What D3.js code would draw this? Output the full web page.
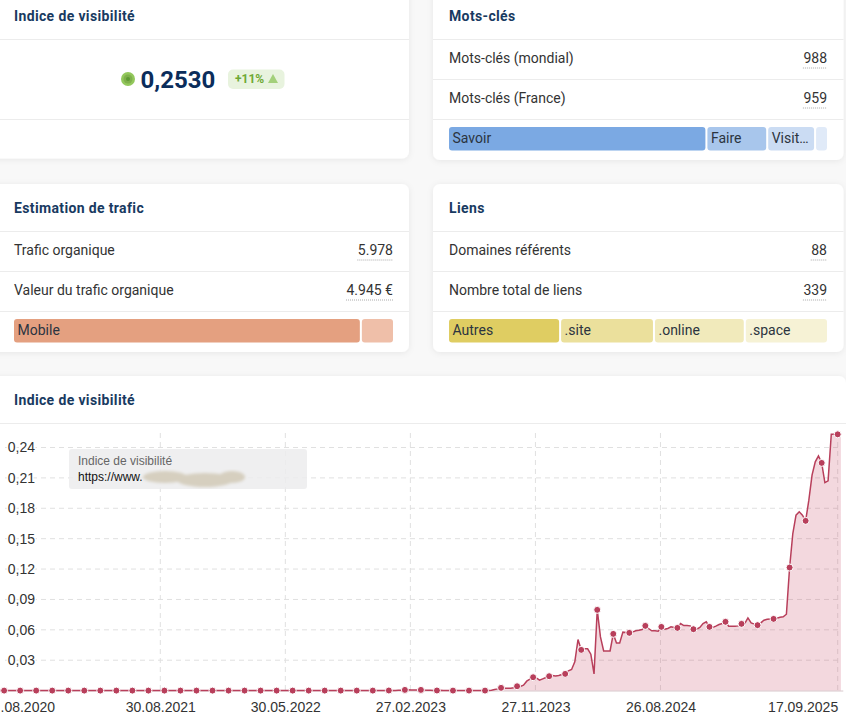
<!DOCTYPE html>
<html>
<head>
<meta charset="utf-8">
<style>
  html, body { margin: 0; padding: 0; background: #f8f8f8; overflow: hidden; }
  svg { display: block; }
  .title { font: 700 14px Roboto, sans-serif; fill: #183a61; letter-spacing: 0.36px; }
  .row { font: 400 14px Roboto, sans-serif; fill: #333; }
  .seg { font: 400 14px Roboto, sans-serif; fill: #2b3440; }
  .axis text { font: 14px "Liberation Sans", Arial, sans-serif; fill: #333; }
</style>
</head>
<body>
<svg id="chart" width="846" height="722"></svg>
<script src="https://cdn.jsdelivr.net/npm/d3@7"></script>
<script>
const yTicks = [0.03, 0.06, 0.09, 0.12, 0.15, 0.18, 0.21, 0.24];
const xTickLabels = ['30.08.2021', '30.05.2022', '27.02.2023', '27.11.2023', '26.08.2024', '17.09.2025'];
const firstTickLabel = '.08.2020';

const motsClesRows = [['Mots-clés (mondial)', '988'], ['Mots-clés (France)', '959']];
const traficRows = [['Trafic organique', '5.978'], ['Valeur du trafic organique', '4.945 €']];
const liensRows = [['Domaines référents', '88'], ['Nombre total de liens', '339']];

const intentLabels = ['Savoir', 'Faire', 'Visit…', ''];
const intentShares = [68, 16, 12.6, 3.4];
const deviceLabels = ['Mobile', ''];
const deviceShares = [91.3, 8.7];
const tldLabels = ['Autres', '.site', '.online', '.space'];
const tldShares = [29.5, 24.7, 23.9, 21.9];

// weekly values, oldest first, each row after the first two starts on a marked point
const visibility = [
  0, 0,
  0, 0, 0, 0, 0,  0, 0, 0, 0, 0,  0, 0, 0, 0, 0,  0, 0, 0, 0, 0,
  0, 0, 0, 0, 0,  0, 0, 0, 0, 0,  0, 0, 0, 0, 0,  0, 0, 0, 0, 0,
  0, 0, 0, 0, 0,  0, 0, 0, 0, 0,  0, 0, 0, 0, 0,  0, 0, 0, 0, 0,
  0, 0, 0, 0, 0,  0, 0, 0, 0, 0,  0, 0, 0, 0, 0,  0, 0, 0, 0, 0,
  0, 0, 0, 0, 0,  0, 0, 0, 0, 0,  0, 0, 0, 0, 0,  0, 0, 0, 0, 0,
  0, 0, 0, 0, 0,  0, 0, 0, 0, 0,  0, 0, 0, 0, 0,  0, 0, 0, 0, 0,
  0, 0, 0, 0, 0,  0, 0, 0, 0, 0,
  0.0001, 0.0002, 0.0002, 0.0003, 0.0004,
  0.0007, 0.0008, 0.0006, 0.0006, 0.0007,
  0.0007, 0.0005, 0.0004, 0.0003, 0.0002,
  0.0001, 0.0003, 0.0002, 0.0001, 0,
  0, 0.0001, 0, 0, 0,
  0, 0, 0, 0, 0.0002,
  0, 0.0001, 0.0004, 0.0011, 0.0017,
  0.0027, 0.0024, 0.0024, 0.0024, 0.0027,
  0.0043, 0.0040, 0.0053, 0.0093, 0.0113,
  0.0132, 0.0126, 0.0103, 0.0116, 0.0129,
  0.0142, 0.0149, 0.0145, 0.0149, 0.0159,
  0.0165, 0.0195, 0.0208, 0.0284, 0.0504,
  0.0402, 0.0412, 0.0412, 0.0359, 0.0165,
  0.0797, 0.0530, 0.0392, 0.0392, 0.0392,
  0.0560, 0.0471, 0.0471, 0.0577, 0.0573,
  0.0570, 0.0577, 0.0590, 0.0596, 0.0603,
  0.0639, 0.0613, 0.0590, 0.0590, 0.0586,
  0.0629, 0.0606, 0.0613, 0.0629, 0.0623,
  0.0619, 0.0662, 0.0642, 0.0642, 0.0639,
  0.0606, 0.0606, 0.0623, 0.0662, 0.0679,
  0.0629, 0.0623, 0.0636, 0.0652, 0.0662,
  0.0679, 0.0636, 0.0636, 0.0636, 0.0639,
  0.0659, 0.0662, 0.0718, 0.0669, 0.0656,
  0.0646, 0.0669, 0.0695, 0.0705, 0.0708,
  0.0708, 0.0715, 0.0725, 0.0728, 0.0754,
  0.1215, 0.1551, 0.1732, 0.1765, 0.1732,
  0.1676, 0.1880, 0.2127, 0.2258, 0.2317,
  0.2248, 0.2054, 0.2071, 0.2531, 0.2531,
  0.2530, 0.2530
];

const svg = d3.select('#chart');
const defs = svg.append('defs');

const shadow = defs.append('filter').attr('id', 'shadow')
  .attr('x', '-5%').attr('y', '-5%').attr('width', '110%').attr('height', '115%');
shadow.append('feDropShadow')
  .attr('dx', 0).attr('dy', 1).attr('stdDeviation', 3)
  .attr('flood-color', '#000').attr('flood-opacity', 0.07);

defs.append('filter').attr('id', 'smudge')
  .append('feGaussianBlur').attr('stdDeviation', 1.8);

defs.append('clipPath').attr('id', 'plot-clip')
  .append('rect').attr('x', 0).attr('y', 420).attr('width', 843.3).attr('height', 280);

const card = (x, y, w, h) => svg.append('rect')
  .attr('x', x).attr('y', y).attr('width', w).attr('height', h)
  .attr('rx', 7).attr('fill', '#fff').attr('filter', 'url(#shadow)');

const rule = (x1, x2, y) => svg.append('line')
  .attr('x1', x1).attr('x2', x2).attr('y1', y).attr('y2', y)
  .attr('stroke', '#ececec');

const title = (x, y, txt) => svg.append('text')
  .attr('class', 'title').attr('x', x).attr('y', y).text(txt);

const rows = (data, x1, x2, x0, x3, top) => {
  data.forEach((r, i) => {
    const base = top + i * 40;
    rule(x0, x3, base);
    svg.append('text').attr('class', 'row').attr('x', x1).attr('y', base + 23).text(r[0]);
    const val = svg.append('text').attr('class', 'row')
      .attr('x', x2).attr('y', base + 23).attr('text-anchor', 'end').text(r[1]);
    const w = val.node().getComputedTextLength();
    svg.append('line')
      .attr('x1', x2 - w - 0.5).attr('x2', x2).attr('y1', base + 28.5).attr('y2', base + 28.5)
      .attr('stroke', '#aaa').attr('stroke-dasharray', '1,1');
  });
  rule(x0, x3, top + data.length * 40);
};

const stackBar = (labels, shares, colors, x0, x1, y0, h) => {
  const total = d3.sum(shares);
  const scale = d3.scaleLinear().domain([0, total]).range([x0, x1 + 2]);
  const segs = Array.from(d3.cumsum(shares), (end, i) => ({ label: labels[i], start: end - shares[i], end, color: colors[i] }));
  const g = svg.append('g').selectAll('g').data(segs).enter().append('g');
  g.append('rect')
    .attr('x', d => scale(d.start)).attr('y', y0)
    .attr('width', d => scale(d.end) - scale(d.start) - 2).attr('height', h)
    .attr('rx', 3).attr('fill', d => d.color);
  g.append('text').attr('class', 'seg')
    .attr('x', d => scale(d.start) + 3.5).attr('y', y0 + 15.5).text(d => d.label);
};

// top row
card(-20, -20, 429, 178.5);
card(433, -20, 410.5, 180);
title(14, 21, 'Indice de visibilité');
title(449, 21, 'Mots-clés');
rule(-20, 409, 39.5);
rule(-20, 409, 119.5);
rows(motsClesRows, 449, 827, 433, 843.5, 39.5);
stackBar(intentLabels, intentShares, ['#7ba9e3', '#a8c6ec', '#cbdcf3', '#e0eaf8'], 449, 827, 127, 23.5);

svg.append('circle').attr('cx', 128).attr('cy', 79).attr('r', 7).attr('fill', '#93c85c');
svg.append('circle').attr('cx', 128).attr('cy', 79).attr('r', 4.5).attr('fill', '#7fb04c');
svg.append('circle').attr('cx', 128).attr('cy', 79).attr('r', 2).attr('fill', '#5d9a32');
svg.append('text').attr('x', 140.5).attr('y', 88)
  .style('font', '700 24px Roboto, sans-serif').attr('fill', '#0b2d5b').text('0,2530');
svg.append('rect').attr('x', 228).attr('y', 69.5).attr('width', 56.5).attr('height', 19.5)
  .attr('rx', 5).attr('fill', '#e8f3de');
svg.append('text').attr('x', 235).attr('y', 83)
  .style('font', '700 12px Roboto, sans-serif').attr('fill', '#6ea934').text('+11%');
svg.append('path').attr('d', 'M268,83 L273,74 L278,83 Z').attr('fill', '#a3d07a');

// second row
card(-20, 184, 429, 168);
card(433, 184, 410.5, 168);
title(14, 213, 'Estimation de trafic');
title(449, 213, 'Liens');
rows(traficRows, 14, 393, -20, 409, 231.5);
rows(liensRows, 449, 827, 433, 843.5, 231.5);
stackBar(deviceLabels, deviceShares, ['#e4a080', '#efbfa9'], 14, 393, 319, 23.5);
stackBar(tldLabels, tldShares, ['#dfcd62', '#ebe09c', '#f1eabb', '#f6f2d5'], 449, 827, 319, 23.5);

// visibility chart card
card(-20, 376, 866, 380);
title(14, 405, 'Indice de visibilité');
rule(-20, 846, 423.5);

const parseDate = d3.timeParse('%d.%m.%Y');
const xTickDates = xTickLabels.map(parseDate);
const endDate = xTickDates[xTickDates.length - 1];
const markerEnd = visibility.length - 2; // last marked point is the 17.09.2025 one

const points = visibility.map((v, i) => ({
  date: d3.timeDay.offset(endDate, (i - markerEnd) * 7),
  value: v,
  marked: (markerEnd - i) % 5 === 0
}));

const x = d3.scaleTime()
  .domain([xTickDates[0], endDate])
  .range([160.3, 837.7]);
const y = d3.scaleLinear()
  .domain([0, 0.24])
  .range([690.6, 447.5]);

svg.append('g').selectAll('line').data(yTicks).enter().append('line')
  .attr('x1', 5).attr('x2', 838)
  .attr('y1', d => y(d)).attr('y2', d => y(d))
  .attr('stroke', '#e0e0e0').attr('stroke-dasharray', '5,4');
svg.append('g').selectAll('line').data(xTickDates).enter().append('line')
  .attr('x1', d => x(d)).attr('x2', d => x(d))
  .attr('y1', 433).attr('y2', 691)
  .attr('stroke', '#e0e0e0').attr('stroke-dasharray', '5,4');

const plot = svg.append('g').attr('clip-path', 'url(#plot-clip)');
plot.append('path').datum(points)
  .attr('fill', '#c43d5b').attr('fill-opacity', 0.2)
  .attr('d', d3.area().x(d => x(d.date)).y0(y(0)).y1(d => y(d.value)));
plot.append('path').datum(points)
  .attr('fill', 'none').attr('stroke', '#b83f5b').attr('stroke-width', 1.5)
  .attr('d', d3.line().x(d => x(d.date)).y(d => y(d.value)));

svg.append('line').attr('x1', 0).attr('x2', 843.3).attr('y1', 691).attr('y2', 691)
  .attr('stroke', '#d8c8cc');

plot.append('g').selectAll('circle').data(points.filter(d => d.marked)).enter().append('circle')
  .attr('cx', d => x(d.date)).attr('cy', d => y(d.value))
  .attr('r', 3.5).attr('fill', '#b83f5b').attr('stroke', '#fff').attr('stroke-width', 1);
plot.raise();

const yAxis = svg.append('g').attr('class', 'axis')
  .attr('transform', 'translate(35,0)')
  .call(d3.axisLeft(y).tickValues(yTicks).tickSize(0).tickPadding(0)
    .tickFormat(d => d3.format('.2f')(d).replace('.', ',')));
yAxis.select('.domain').remove();
yAxis.selectAll('text')
  .attr('stroke', '#fff').attr('stroke-width', 3).attr('paint-order', 'stroke');

const xAxis = svg.append('g').attr('class', 'axis')
  .attr('transform', 'translate(0,691)')
  .call(d3.axisBottom(x).tickValues(xTickDates).tickSize(0).tickPadding(11)
    .tickFormat(d3.timeFormat('%d.%m.%Y')));
xAxis.select('.domain').remove();
xAxis.selectAll('text').filter((d, i) => i === xTickDates.length - 1).attr('text-anchor', 'end');
xAxis.append('text').attr('x', 55).attr('y', 21).attr('text-anchor', 'end').text(firstTickLabel);

// legend box over the plot
svg.append('rect').attr('x', 69).attr('y', 449).attr('width', 238).attr('height', 40)
  .attr('rx', 3).attr('fill', '#ececed').attr('fill-opacity', 0.85);
svg.append('text').attr('x', 78).attr('y', 465)
  .style('font', '12px "Liberation Sans", Arial, sans-serif').attr('fill', '#666').text('Indice de visibilité');
svg.append('text').attr('x', 78).attr('y', 481)
  .style('font', '12px "Liberation Sans", Arial, sans-serif').attr('fill', '#111').text('https://www.');
svg.append('g').attr('filter', 'url(#smudge)').selectAll('ellipse')
  .data([[165, 477, 22, 6], [205, 480, 28, 7], [232, 477, 13, 6]]).enter().append('ellipse')
  .attr('cx', d => d[0]).attr('cy', d => d[1]).attr('rx', d => d[2]).attr('ry', d => d[3])
  .attr('fill', '#d6cfbf');
</script>
</body>
</html>
